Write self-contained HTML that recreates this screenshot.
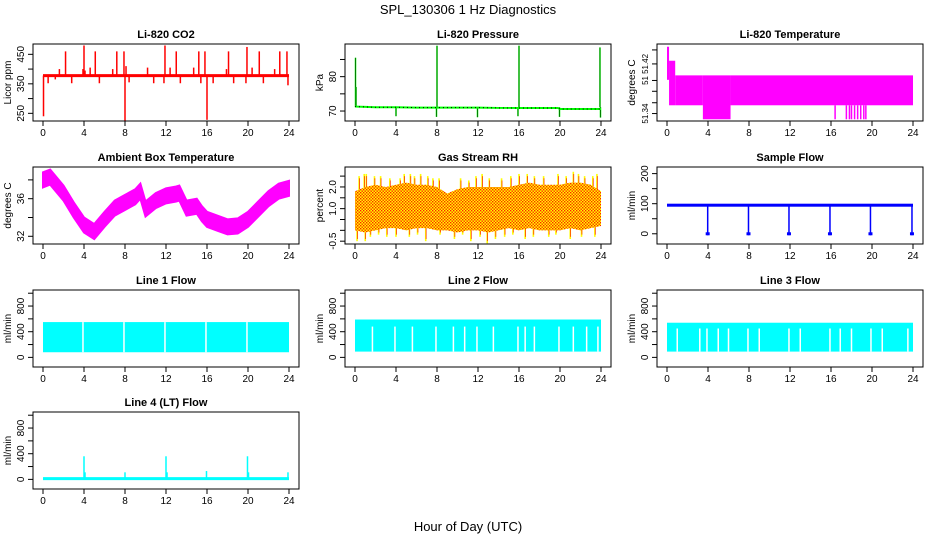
<!DOCTYPE html>
<html><head><meta charset="utf-8"><style>
html,body{margin:0;padding:0;background:#fff;}
svg{display:block;font-family:"Liberation Sans",sans-serif;}
</style></head><body>
<svg id="c" width="936" height="540" xmlns="http://www.w3.org/2000/svg">
<defs>
<pattern id="rhpat" width="3" height="3" patternUnits="userSpaceOnUse"><rect width="3" height="3" fill="#ffff00"/><rect x="0" y="0" width="1.4" height="1.4" fill="#ff2000"/><rect x="1.5" y="1.5" width="1.4" height="1.4" fill="#ff2000"/></pattern>
</defs>
<text x="468" y="14" text-anchor="middle" font-size="13">SPL_130306  1 Hz Diagnostics</text>
<text x="468" y="531" text-anchor="middle" font-size="13">Hour of Day (UTC)</text>
</svg>
<script>
// ---- data ----
const xTicks=[0,4,8,12,16,20,24];
const co2Base=378;
const co2SpikeHours=[0.05,0.5,1.2,1.6,2.2,2.8,3.9,4.0,4.1,4.6,5.1,5.5,6.8,7.2,7.9,8.0,8.1,8.4,10.2,10.8,11.8,11.9,12.4,13.0,13.4,14.7,15.2,15.4,15.8,16.0,16.6,17.9,18.1,18.6,19.8,19.9,20.4,21.1,21.5,22.6,23.1,23.8,23.9];
const co2SpikeVals=[240,352,365,400,460,352,400,480,395,405,460,352,400,460,460,225,410,355,405,352,352,480,405,460,352,405,460,352,460,228,352,400,460,352,352,475,405,460,352,400,460,460,345];
const presHours=[0,1,2,4,6,8,10,12,14,16,18,19.8,20,22,24];
const presBase=[71.3,71.2,71.1,71.1,71.0,71.0,71.0,71.0,70.9,70.9,70.9,70.9,70.6,70.6,70.6];
const presSpikeHours=[0.05,0.1,4.0,7.95,8.0,11.95,15.9,16.0,19.95,23.9,23.95];
const presSpikeVals=[85.5,77,68.5,68.3,89.0,68.2,68.5,89.0,68.3,88.5,68.1];
const tempTicks=[51.34,51.357,51.375,51.392,51.418,51.44];
const tempTickLabels=['51.34','','','51','51.42',''];
const tempSegStart=[0.0,0.2,0.8,3.5,6.2];
const tempSegEnd=[0.2,0.8,3.5,6.2,24.0];
const tempSegLo=[51.393,51.353,51.353,51.331,51.353];
const tempSegHi=[51.445,51.423,51.400,51.400,51.400];
const tempDipHours=[16.4,17.5,17.8,18.0,18.3,18.6,18.9,19.2,19.4];
const tempDipVal=51.331;
const ambHours=[0,0.7,1,2,3,4,5,6,7,8,9,9.5,10,11,12,13,13.3,14,15,15.5,16,17,18,19,20,21,22,23,24];
const ambVals=[38.0,38.3,37.9,36.6,34.8,33.2,32.5,33.8,35.0,35.6,36.2,36.8,34.9,35.8,36.3,36.5,36.6,35.0,35.2,34.4,33.8,33.4,33.0,33.1,33.8,34.9,36.0,36.8,37.1];
const ambHalf=0.8;
const rhHours=[0,1,2,3,4,5,6,7,8,9,10,11,12,13,14,15,16,17,18,19,20,21,22,23,24];
const rhTop=[1.8,2.0,2.1,2.0,2.1,2.2,2.1,2.1,2.0,1.7,1.9,2.0,2.0,2.0,2.0,2.0,2.1,2.2,2.1,2.1,2.1,2.2,2.2,2.1,1.8];
const rhBot=[0.0,-0.1,0.0,0.1,0.1,0.0,0.1,0.1,0.0,0.0,-0.1,0.0,0.0,-0.1,0.0,0.1,0.0,0.1,0.0,0.0,0.0,0.1,0.0,0.1,0.2];
const rhUpHours=[0.4,0.9,1.1,1.9,2.5,3.4,4.4,4.8,5.4,5.8,6.4,7.1,7.6,8.2,10.3,11.1,11.8,12.4,13.1,14.3,15.2,16.0,16.8,17.5,18.4,19.8,20.6,21.3,21.8,22.4,23.2,23.6];
const rhUpVals=[2.5,2.6,2.6,2.5,2.5,2.4,2.4,2.6,2.6,2.5,2.6,2.5,2.4,2.4,2.4,2.3,2.5,2.6,2.4,2.4,2.5,2.6,2.6,2.5,2.5,2.6,2.5,2.7,2.6,2.5,2.5,2.6];
const rhDownHours=[0.2,1.0,1.5,2.3,3.1,4.0,5.3,6.1,6.9,8.3,9.7,10.5,11.3,12.2,12.9,13.7,14.6,15.4,16.6,17.4,18.9,19.6,21.0,22.1,23.4];
const rhDownVals=[-0.5,-0.5,-0.3,-0.2,-0.3,-0.3,-0.3,-0.2,-0.5,-0.2,-0.4,-0.2,-0.5,-0.3,-0.6,-0.4,-0.3,-0.2,-0.4,-0.3,-0.3,-0.2,-0.4,-0.3,-0.3];
const sampleBaseLo=90, sampleBaseHi=100;
const sampleDipHours=[3.97,7.95,11.9,15.9,19.85,23.9];
const sampleDipVals=[-5,-5,-5,-5,-5,-5];
const line1Lo=80, line1Hi=550, line1GapTop=550;
const line1Gaps=[3.9,7.9,11.9,15.9,19.9];
const line2Lo=90, line2Hi=590, line2GapTop=480;
const line2Gaps=[1.7,3.9,5.6,7.9,9.6,10.7,11.9,13.5,15.9,16.6,17.5,19.9,21.3,22.6,23.7];
const line3Lo=90, line3Hi=540, line3GapTop=450;
const line3Gaps=[1.0,3.2,3.9,5.0,6.0,7.9,9.0,11.9,13.0,15.9,16.9,18.0,19.9,21.0,23.5];
const line4Base=12;
const line4SpikeHours=[4.0,4.1,8.0,12.0,12.1,15.95,19.95,20.05,23.9];
const line4SpikeVals=[360,110,110,360,110,130,360,110,110];

// ---- layout ----
const svg=document.getElementById('c');
const NS='http://www.w3.org/2000/svg';
const colL=[33,345,657], PW=266, rowT=[44,167,290,412], PH=77;
function mk(tag,attrs,parent){const e=document.createElementNS(NS,tag);for(const k in attrs)e.setAttribute(k,attrs[k]);(parent||svg).appendChild(e);return e;}
function panel(name,c,r,title,ylab,ymin,ymax,yt,ylabels,yfs){
  const fs=yfs||10;
  const g=mk('g',{});
  
  
  const L=colL[c],T=rowT[r];
  const sx=h=>L+10+h*246/24;
  const sy=v=>T+PH-(v-ymin)/(ymax-ymin)*PH;
  const plot=mk('g',{},g);
  
  
  const box=mk('rect',{x:L,y:T,width:PW,height:PH,fill:'none',stroke:'#000','stroke-width':1},g);
  
  
  const t=mk('text',{x:L+PW/2,y:T-6,'text-anchor':'middle','font-size':11,'font-weight':'bold'},g);
  t.textContent=title;
  
  
  xTicks.forEach(h=>{
    mk('line',{x1:sx(h),x2:sx(h),y1:T+PH,y2:T+PH+5,stroke:'#000'},g);
    const tx=mk('text',{x:sx(h),y:T+PH+15,'text-anchor':'middle','font-size':10},g);
    tx.textContent=h;
    
    
  });
  yt.forEach((v,i)=>{
    mk('line',{x1:L-5,x2:L,y1:sy(v),y2:sy(v),stroke:'#000'},g);
    if(ylabels[i]!==''){
      const ty=mk('text',{x:L-9,y:sy(v),'text-anchor':'middle','font-size':fs,transform:`rotate(-90 ${L-9} ${sy(v)})`},g);
      ty.textContent=ylabels[i];
      
      
    }
  });
  const yl=mk('text',{x:L-22,y:T+PH/2,'text-anchor':'middle','font-size':10,transform:`rotate(-90 ${L-22} ${T+PH/2})`},g);
  yl.textContent=ylab;
  
  
  g.appendChild(box);
  return {sx,sy,plot};
}
function vline(p,h,v1,v2,col,w){mk('line',{x1:p.sx(h),x2:p.sx(h),y1:p.sy(v1),y2:p.sy(v2),stroke:col,'stroke-width':w||1.3},p.plot);}

// CO2
let p=panel('co2',0,0,'Li-820 CO2','Licor ppm',224,485,[250,300,350,400,450],['250','','350','','450']);
co2SpikeHours.forEach((h,i)=>vline(p,h,co2Base,co2SpikeVals[i],'#ff0000',1.5));
mk('line',{x1:p.sx(0),x2:p.sx(24),y1:p.sy(co2Base),y2:p.sy(co2Base),stroke:'#ff0000','stroke-width':3},p.plot);

// Pressure
p=panel('pressure',1,0,'Li-820 Pressure','kPa',67.1,89.5,[70,75,80,85],['70','','80','']);
presSpikeHours.forEach((h,i)=>{vline(p,h,71.1,presSpikeVals[i],'#00ff00',1.5);vline(p,h,71.1,presSpikeVals[i],'#000',0.5);});
let d=presHours.map((h,i)=>(i?'L':'M')+p.sx(h)+' '+p.sy(presBase[i])).join(' ');
mk('path',{d,fill:'none',stroke:'#00ff00','stroke-width':2},p.plot);
mk('path',{d,fill:'none',stroke:'#000','stroke-width':1,'stroke-dasharray':'1 3'},p.plot);

// Li-820 temperature
p=panel('li820-temperature',2,0,'Li-820 Temperature','degrees C',51.3283,51.4493,tempTicks,tempTickLabels,8);
tempSegStart.forEach((s,i)=>mk('rect',{x:p.sx(s),y:p.sy(tempSegHi[i]),width:p.sx(tempSegEnd[i])-p.sx(s),height:p.sy(tempSegLo[i])-p.sy(tempSegHi[i]),fill:'#ff00ff'},p.plot));
tempDipHours.forEach(h=>vline(p,h,51.353,tempDipVal,'#ff00ff',1.5));

// Ambient
p=panel('ambient-temperature',0,1,'Ambient Box Temperature','degrees C',31.18,39.37,[32,34,36,38],['32','','36','']);
d=ambHours.map((h,i)=>(i?'L':'M')+p.sx(h)+' '+p.sy(ambVals[i]+ambHalf)).join(' ')+' '+ambHours.slice().reverse().map((h,j)=>{const i=ambHours.length-1-j;return 'L'+p.sx(h)+' '+p.sy(ambVals[i]-ambHalf);}).join(' ')+'Z';
mk('path',{d,fill:'#ff00ff',stroke:'#ff00ff','stroke-width':2},p.plot);

// RH
p=panel('gas-stream-rh',1,1,'Gas Stream RH','percent',-0.63,2.92,[-0.5,0,0.5,1,1.5,2,2.5],['-0.5','','','1.0','','2.0','']);
rhUpHours.forEach((h,i)=>{vline(p,h,1,rhUpVals[i],'#ffff00',1.6);vline(p,h+0.04,1,rhUpVals[i]-0.1,'#ff2000',0.7);});
rhDownHours.forEach((h,i)=>{vline(p,h,1,rhDownVals[i],'#ffff00',1.6);vline(p,h+0.04,1,rhDownVals[i]+0.1,'#ff2000',0.7);});
d=rhHours.map((h,i)=>(i?'L':'M')+p.sx(h)+' '+p.sy(rhTop[i])).join(' ')+' '+rhHours.slice().reverse().map((h,j)=>{const i=rhHours.length-1-j;return 'L'+p.sx(h)+' '+p.sy(rhBot[i]);}).join(' ')+'Z';
mk('path',{d,fill:'url(#rhpat)'},p.plot);

// Sample flow
p=panel('sample-flow',2,1,'Sample Flow','ml/min',-34,222,[0,50,100,150,200],['0','','100','','200']);
mk('rect',{x:p.sx(0),y:p.sy(sampleBaseHi),width:p.sx(24)-p.sx(0),height:p.sy(sampleBaseLo)-p.sy(sampleBaseHi),fill:'#0000ff'},p.plot);
sampleDipHours.forEach((h,i)=>{vline(p,h,95,sampleDipVals[i],'#0000ff',1.5);mk('rect',{x:p.sx(h)-2,y:p.sy(0)-1.5,width:4,height:3,fill:'#0000ff'},p.plot);});

// Line flows
function linePanel(name,c,r,title,lo,hi,gapTop,gaps){
  const q=panel(name,c,r,title,'ml/min',-150,1050,[0,200,400,600,800,1000],['0','','400','','800','']);
  mk('rect',{x:q.sx(0),y:q.sy(hi),width:q.sx(24)-q.sx(0),height:q.sy(lo)-q.sy(hi),fill:'#00ffff'},q.plot);
  gaps.forEach(h=>vline(q,h,lo,gapTop,'#ffffff',1.5));
  return q;
}
linePanel('line1-flow',0,2,'Line 1 Flow',line1Lo,line1Hi,line1GapTop,line1Gaps);
linePanel('line2-flow',1,2,'Line 2 Flow',line2Lo,line2Hi,line2GapTop,line2Gaps);
linePanel('line3-flow',2,2,'Line 3 Flow',line3Lo,line3Hi,line3GapTop,line3Gaps);
p=panel('line4-flow',0,3,'Line 4 (LT) Flow','ml/min',-150,1050,[0,200,400,600,800,1000],['0','','400','','800','']);
mk('line',{x1:p.sx(0),x2:p.sx(24),y1:p.sy(line4Base),y2:p.sy(line4Base),stroke:'#00ffff','stroke-width':3},p.plot);
line4SpikeHours.forEach((h,i)=>vline(p,h,line4Base,line4SpikeVals[i],'#00ffff',1.5));
</script>
</body></html>
